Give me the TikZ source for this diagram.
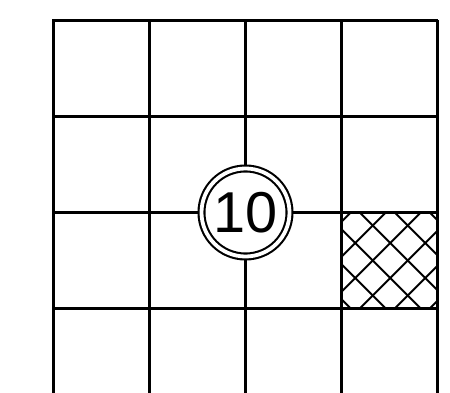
\documentclass[tikz,border=0pt]{standalone}
\usepackage{fontspec}
\newfontfamily\arialfont{Liberation Sans}
\usetikzlibrary{positioning}

\begin{document}
\begin{tikzpicture}[x=0.025cm, y=-0.025cm,
        gridline/.style={line width=2.1pt},
        hatchline/.style={line width=1.4pt},
        ring/.style={circle, draw, line width=1.5pt, double, double distance=2.7pt, fill=white, inner sep=0pt, minimum size=2.2cm, font=\arialfont\fontsize{41}{42}\selectfont}]
            \useasboundingbox (0,0) rectangle (450,393);
            % hatched cell
            \begin{scope}
                \clip (341.5,212.5) rectangle (437.5,308.5);
                \foreach \k in {-3,...,3} {
                    \draw[hatchline] ({341.5+18.3+35*\k-10},202.5) -- ({341.5+18.3+35*\k+110},322.5);
                }
                \foreach \k in {0,...,6} {
                    \draw[hatchline] ({341.5+9.3+35*\k+10},202.5) -- ({341.5+9.3+35*\k-110},322.5);
                }
            \end{scope}
            % grid
            \foreach \i in {0,...,4} {
                \draw[gridline] ({53.5+96*\i},20.5) -- ({53.5+96*\i},393);
            }
            \foreach \j in {0,...,3} {
                \draw[gridline] (52.5,{20.5+96*\j}) -- (438.5,{20.5+96*\j});
            }
            \node[ring] (ten) at (245.5,212.5) {10};
        \end{tikzpicture}
\end{document}
